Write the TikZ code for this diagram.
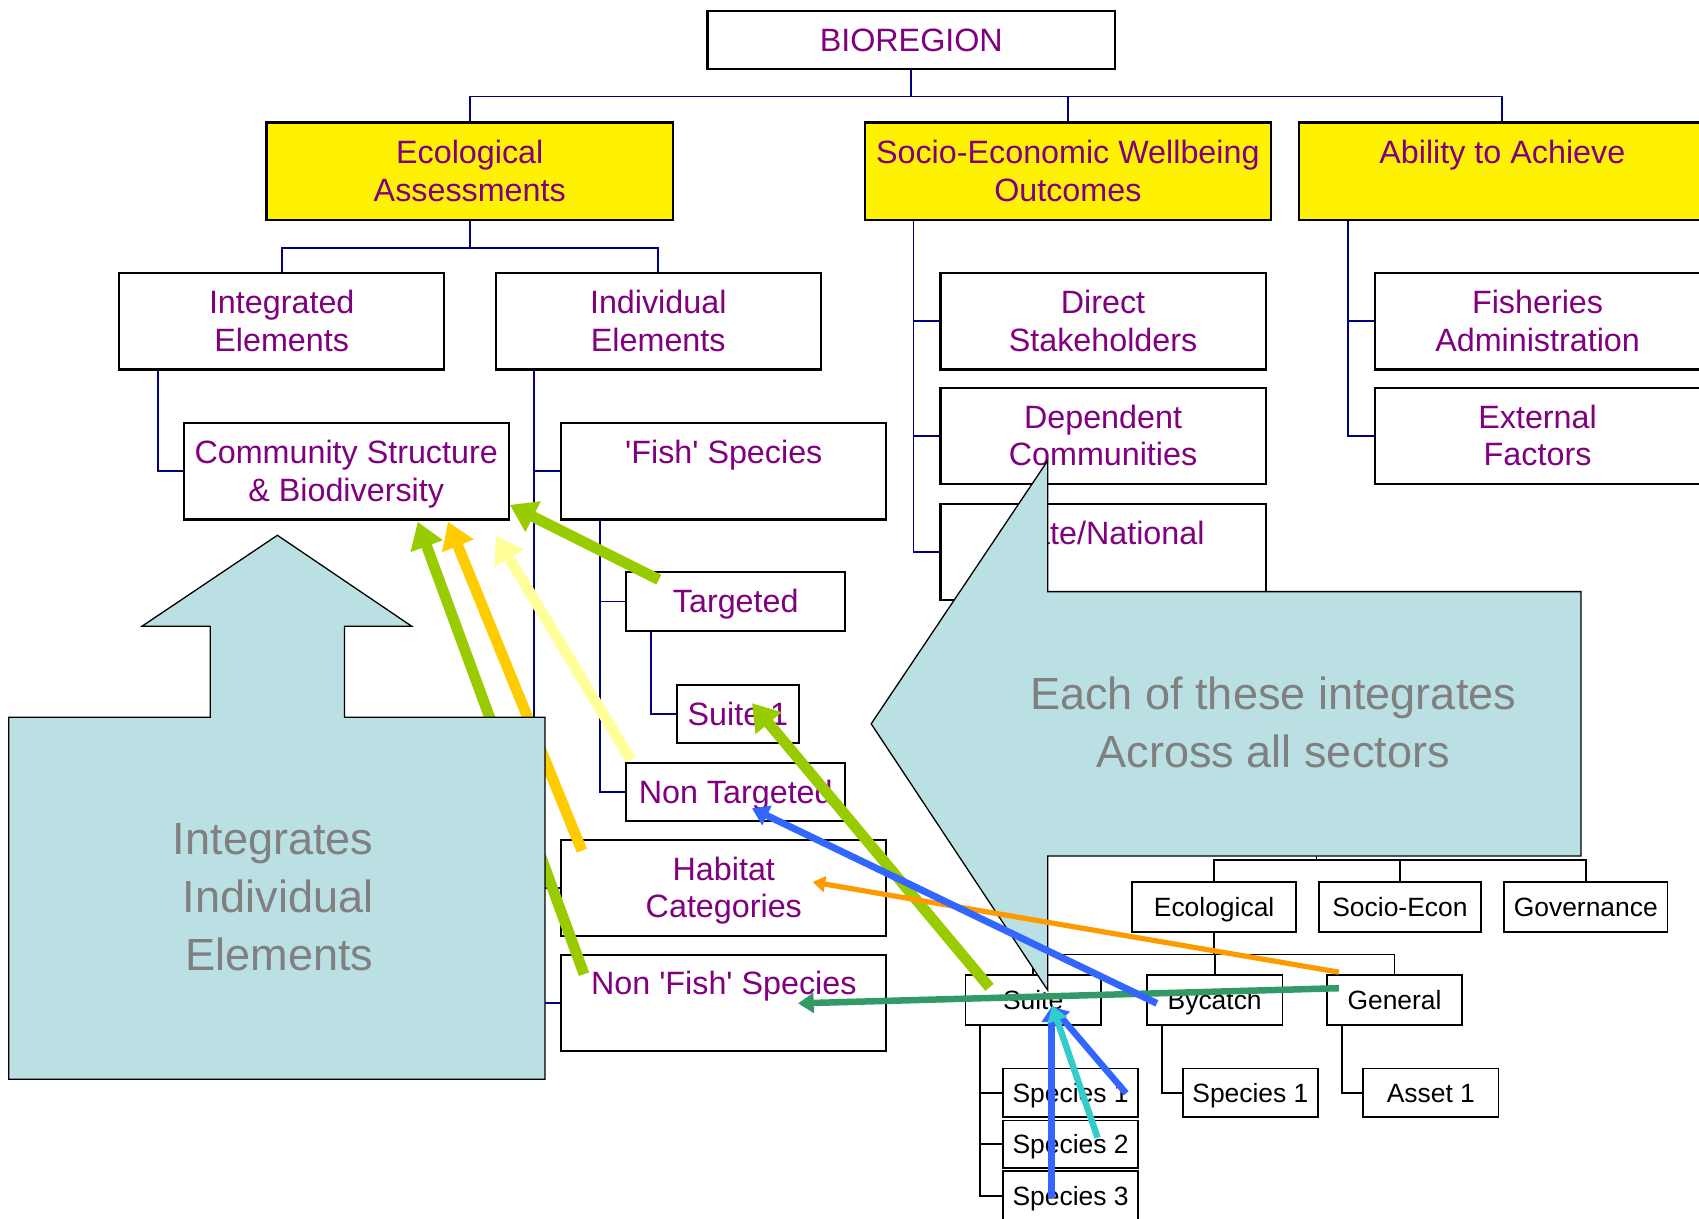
\documentclass[tikz,border=0pt]{standalone}
\usepackage{fontspec}
\setmainfont{Liberation Sans}
\usetikzlibrary{arrows.meta,calc}

\definecolor{orgpurple}{RGB}{128,0,128}
\definecolor{orgnavy}{RGB}{0,0,128}
\definecolor{calloutblue}{RGB}{187,224,227}
\definecolor{textgrey}{RGB}{128,128,128}
\definecolor{arrLime}{RGB}{153,204,0}
\definecolor{arrGold}{RGB}{255,204,0}
\definecolor{arrPale}{RGB}{255,255,153}
\definecolor{arrBlue}{RGB}{51,102,255}
\definecolor{arrOrange}{RGB}{255,153,0}
\definecolor{arrSea}{RGB}{51,153,102}
\definecolor{arrCyan}{RGB}{51,204,204}

\newcommand{\orgfont}{\fontsize{14.9}{17.4}\selectfont}
\newcommand{\leaffont}{\fontsize{12.2}{14.5}\selectfont}
\newcommand{\calloutfont}{\fontsize{20.8}{26.7}\selectfont}

\begin{document}
\begin{tikzpicture}[x=0.5pt,y=-0.5pt,
    tallbox/.style={draw,line width=1pt,fill=white,minimum width=150pt,minimum height=44.5pt,
      inner sep=0pt,align=center,text=orgpurple,font=\orgfont,text height=29.4pt,text depth=1.9pt},
    oneline/.style={text height=12pt,text depth=19.3pt},
    headbox/.style={tallbox,fill=yellow,minimum width=187.5pt,minimum height=45pt},
    shortbox/.style={draw,line width=1pt,fill=white,minimum height=27pt,inner sep=0pt,
      text=orgpurple,font=\orgfont,text height=13.7pt,text depth=3pt},
    leafbox/.style={draw,line width=0.8pt,fill=white,minimum width=62.5pt,minimum height=23pt,
      inner sep=0pt,font=\leaffont,text height=11.7pt,text depth=3pt},
    orgline/.style={orgnavy,line width=0.8pt},
    leafline/.style={black,line width=0.8pt},
    callout/.style={fill=calloutblue,draw=black,line width=0.6pt,line join=miter},
    callouttext/.style={text=textgrey,font=\calloutfont,inner sep=0pt},
    flow/.style={line width=#1,-{Triangle[length=0pt 2.4,width=0pt 3]}}]
      \useasboundingbox (0,0) rectangle (1568,1125);
      \clip (0,0) rectangle (1568,1125);

      \node[shortbox,minimum width=188pt] (bioregion) at (841,37) {BIOREGION};
      \node[headbox] (ecoAss) at (433.5,158) {Ecological\\Assessments};
      \node[headbox] (socAss) at (985.5,158) {Socio-Economic Wellbeing\\Outcomes};
      \node[headbox,oneline] (ability) at (1386.5,158) {Ability to Achieve};
      \node[tallbox] (integrated) at (260,296.5) {Integrated\\Elements};
      \node[tallbox] (individual) at (607.5,296.5) {Individual\\Elements};
      \node[tallbox] (community) at (319.5,435) {Community Structure\\\& Biodiversity};
      \node[tallbox,oneline] (fish) at (668,435) {\textquotesingle Fish\textquotesingle{} Species};
      \node[shortbox,minimum width=101pt] (targeted) at (679,555) {Targeted};
      \node[shortbox,minimum width=56pt] (suiteOne) at (681,659) {Suite 1};
      \node[shortbox,minimum width=101pt] (nonTargeted) at (679,731) {Non Targeted};
      \node[tallbox] (habitat) at (668,819.5) {Habitat\\Categories};
      \node[tallbox,oneline] (nonFish) at (668,925.5) {Non \textquotesingle Fish\textquotesingle{} Species};
      \node[tallbox] (direct) at (1018,296.5) {Direct\\Stakeholders};
      \node[tallbox] (dependent) at (1018,402.5) {Dependent\\Communities};
      \node[tallbox,oneline] (stateNat) at (1018,509.5) {State/National};
      \node[tallbox] (fisheries) at (1419,296.5) {Fisheries\\Administration};
      \node[tallbox] (external) at (1419,402.5) {External\\Factors};

      \draw[orgline] (bioregion.south) -- ++(0,24) -| (ecoAss.north);
      \draw[orgline] (bioregion.south) -- ++(0,24) -| (socAss.north);
      \draw[orgline] (bioregion.south) -- ++(0,24) -| (ability.north);
      \draw[orgline] (ecoAss.south) -- ++(0,25) -| (integrated.north);
      \draw[orgline] (ecoAss.south) -- ++(0,25) -| (individual.north);
      \draw[orgline] ($(integrated.south west)+(37,0)$) |- (community.west);
      \draw[orgline] ($(individual.south west)+(36,0)$) |- (fish.west);
      \draw[orgline] ($(individual.south west)+(36,0)$) |- (habitat.west);
      \draw[orgline] ($(individual.south west)+(36,0)$) |- (nonFish.west);
      \draw[orgline] ($(fish.south west)+(37,0)$) |- (targeted.west);
      \draw[orgline] ($(fish.south west)+(37,0)$) |- (nonTargeted.west);
      \draw[orgline] ($(targeted.south west)+(24,0)$) |- (suiteOne.west);
      \draw[orgline] ($(socAss.south west)+(46,0)$) |- (direct.west);
      \draw[orgline] ($(socAss.south west)+(46,0)$) |- (dependent.west);
      \draw[orgline] ($(socAss.south west)+(46,0)$) |- (stateNat.west);
      \draw[orgline] ($(ability.south west)+(46,0)$) |- (fisheries.west);
      \draw[orgline] ($(ability.south west)+(46,0)$) |- (external.west);

      \node[leafbox,minimum width=75.5pt] (ecoSec) at (1120.5,837) {Ecological};
      \node[leafbox,minimum width=75pt] (socSec) at (1292,837) {Socio-Econ};
      \node[leafbox,minimum width=75.5pt] (govSec) at (1463.5,837) {Governance};
      \node[leafbox] (suite) at (953.5,923) {Suite};
      \node[leafbox] (bycatch) at (1121,923) {Bycatch};
      \node[leafbox] (general) at (1287,923) {General};
      \node[leafbox,minimum height=22.5pt] (speciesA) at (988,1008.5) {Species 1};
      \node[leafbox,minimum height=22pt] (speciesB) at (988,1056) {Species 2};
      \node[leafbox,minimum height=22.5pt] (speciesC) at (988,1103.5) {Species 3};
      \node[leafbox,minimum height=22.5pt] (bySpecies) at (1154,1008.5) {Species 1};
      \node[leafbox,minimum height=22.5pt] (asset) at (1320.5,1008.5) {Asset 1};

      \coordinate (sector) at (1215,790);
      \draw[leafline] (sector) -- ++(0,4) -| (ecoSec.north);
      \draw[leafline] (sector) -- ++(0,4) -| (socSec.north);
      \draw[leafline] (sector) -- ++(0,4) -| (govSec.north);
      \draw[leafline] (ecoSec.south) -- ++(0,20) -| (suite.north);
      \draw[leafline] (ecoSec.south) -- ++(0,20) -| (bycatch.north);
      \draw[leafline] (ecoSec.south) -- ++(0,20) -| (general.north);
      \draw[leafline] ($(suite.south west)+(14.5,0)$) |- (speciesA.west);
      \draw[leafline] ($(suite.south west)+(14.5,0)$) |- (speciesB.west);
      \draw[leafline] ($(suite.south west)+(14.5,0)$) |- (speciesC.west);
      \draw[leafline] ($(bycatch.south west)+(14.5,0)$) |- (bySpecies.west);
      \draw[leafline] ($(general.south west)+(14.5,0)$) |- (asset.west);

      \draw[flow=5pt,arrLime] ($(nonFish.north west)+(22,19)$) -- ($(community.south)+(66,1)$);
      \draw[flow=5pt,arrGold] ($(habitat.north west)+(20,11)$) -- ($(community.south)+(94,1)$);

      \draw[callout] (8,662) -- (194,662) -- (194,578) -- (131,578) -- (256,494) -- (380,578)
        -- (318,578) -- (318,662) -- (503,662) -- (503,996) -- (8,996) -- cycle;
      \node[callouttext,align=right,anchor=east] (integText) at (345,828) {Integrates\\Individual\\Elements};
      \draw[callout] (804,668) -- (967,425) -- (967,546) -- (1459,546) -- (1459,790)
        -- (967,790) -- (967,914) -- cycle;
      \node[callouttext,align=center] (acrossText) at (1175,666.5) {Each of these integrates\\Across all sectors};

      \draw[flow=5pt,arrLime] ($(targeted.north west)+(31,8)$) -- ($(community.east)+(0,31)$);
      \draw[flow=5pt,arrPale] ($(nonTargeted.north west)+(5,-2)$) -- ($(community.south east)+(-13,14)$);
      \draw[flow=5pt,arrLime] ($(suite.north west)+(23,12)$) -- ($(suiteOne.center)+(13,-10)$);
      \draw[flow=2.4pt,arrOrange] ($(general.north west)+(12,-2)$) -- ($(habitat.center)+(82,-5.5)$);
      \draw[flow=3pt,arrSea] ($(general.west)+(12,-11)$) -- ($(nonFish.center)+(68.5,0.5)$);
      \draw[flow=3.2pt,arrBlue] ($(bycatch.west)+(10,3)$) -- ($(nonTargeted.south)+(15,-13)$);
      \draw[flow=3pt,arrBlue] ($(speciesC.center)+(-17.5,2.5)$) -- ($(suite.center)+(17,6)$);
      \draw[flow=3pt,arrBlue] ($(speciesA.east)+(-12,0.5)$) -- ($(suite.center)+(17.5,6)$);
      \draw[flow=3pt,arrCyan] ($(speciesB.center)+(25,-6)$) -- ($(suite.center)+(17.5,5)$);
    \end{tikzpicture}
\end{document}
